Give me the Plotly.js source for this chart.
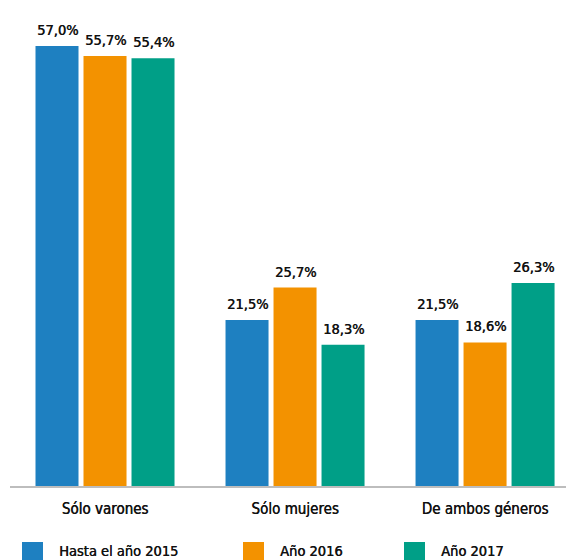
<!DOCTYPE html>
<html>
<head>
<meta charset="utf-8">
<script src="https://cdn.plot.ly/plotly-3.0.1.min.js"></script>
<style>html,body{margin:0;padding:0;background:#fff;}#chart{width:566px;height:560px;}</style>
</head>
<body>
<div id="chart"></div>
<script>
const categories = ["Sólo varones", "Sólo mujeres", "De ambos géneros"];
const seriesNames = ["Hasta el año 2015", "Año 2016", "Año 2017"];
const hasta2015 = [57.0, 21.5, 21.5];
const anio2016 = [55.7, 25.7, 18.6];
const anio2017 = [55.4, 18.3, 26.3];
const seriesValues = [hasta2015, anio2016, anio2017];
const colors = ["#1e80c1", "#f39200", "#009f87"];

const FONT = "'Liberation Sans Narrow', 'DejaVu Sans Condensed', 'Roboto', sans-serif";
const SHADOW = '0.45px 0 0 #111';
const fmt = v => v.toFixed(1).replace('.', ',') + '%';

const traces = seriesValues.map((vals, i) => ({
  type: 'bar',
  name: seriesNames[i],
  x: categories,
  y: vals,
  marker: {color: colors[i]},
  showlegend: false,
  hoverinfo: 'skip'
}));

const annotations = [];
const nS = seriesValues.length;
const groupW = 1 - 0.2421;
seriesValues.forEach((vals, i) => {
  vals.forEach((v, j) => {
    const off = (i - (nS - 1) / 2) * groupW / nS;
    annotations.push({
      x: j + off, y: v, xref: 'x', yref: 'y',
      text: fmt(v), showarrow: false,
      yanchor: 'bottom', yshift: 6,
      font: {family: FONT, size: 14.5, color: '#111', shadow: SHADOW}
    });
  });
});

// legend drawn in pixel-like paper positions
const legendX = [22, 243, 404];
const shapes = [];
seriesNames.forEach((n, i) => {
  shapes.push({
    type: 'rect', xref: 'paper', yref: 'paper', layer: 'above',
    x0: (legendX[i] - 10) / 556, x1: (legendX[i] + 21 - 10) / 556,
    y0: -(560 - 486 - 0) / 466 - 0.2, y1: -(542 - 486) / 466,
    fillcolor: colors[i], line: {width: 0}
  });
  annotations.push({
    xref: 'paper', yref: 'paper',
    x: (legendX[i] + 35 - 10) / 556, y: -(551 - 486) / 466,
    xanchor: 'left', yanchor: 'middle', showarrow: false,
    text: n, font: {family: FONT, size: 14.5, color: '#111', shadow: SHADOW}
  });
});

const layout = {
  width: 566, height: 560,
  margin: {l: 10, r: 0, t: 20, b: 74},
  paper_bgcolor: '#fff', plot_bgcolor: '#fff',
  barmode: 'group', bargap: 0.2421, bargroupgap: 0.104,
  xaxis: {
    type: 'category', range: [-0.5, 2.426],
    showline: true, linecolor: '#bdbdbd', linewidth: 2,
    ticks: '', showgrid: false, zeroline: false,
    tickfont: {family: FONT, size: 15, color: '#111', shadow: SHADOW},
    ticklabelstandoff: 8
  },
  yaxis: {range: [0, 60.36], visible: false, showgrid: false, zeroline: false},
  showlegend: false,
  annotations: annotations,
  shapes: shapes
};

Plotly.newPlot('chart', traces, layout, {displayModeBar: false, staticPlot: true});
</script>
</body>
</html>
